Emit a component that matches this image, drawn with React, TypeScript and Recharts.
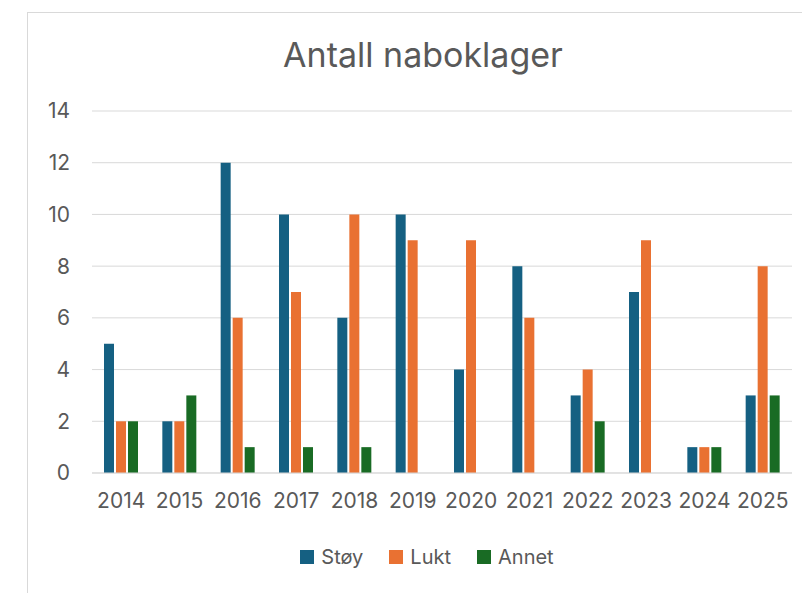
import { BarChart, Bar, XAxis, YAxis, CartesianGrid } from "recharts";

const years = ["2014", "2015", "2016", "2017", "2018", "2019", "2020", "2021", "2022", "2023", "2024", "2025"];
const stoy = [5, 2, 12, 10, 6, 10, 4, 8, 3, 7, 1, 3];
const lukt = [2, 2, 6, 7, 10, 9, 9, 6, 4, 9, 1, 8];
const annet = [2, 3, 1, 1, 1, 0, 0, 0, 2, 0, 1, 3];
const yTicks = [0, 2, 4, 6, 8, 10, 12, 14];
const seriesNames = ["Støy", "Lukt", "Annet"];
const seriesColors = ["#156082", "#E97132", "#196B24"];

const data = years.map((year, i) => ({
    year,
    Støy: stoy[i],
    Lukt: lukt[i],
    Annet: annet[i],
}));

const font = "Inter, 'Open Sans', sans-serif";
const grey = "#595959";

export default function App() {
    return (
        <div style={{ position: "absolute", left: 0, top: 0, width: 802, height: 593, background: "#fff", fontFamily: font }}>
            <div
                style={{
                    position: "absolute",
                    left: 27,
                    top: 12,
                    width: 800,
                    height: 600,
                    border: "1px solid #d9d9d9",
                }}
            />
            <div
                style={{
                    position: "absolute",
                    left: 0,
                    width: 846,
                    top: 34,
                    textAlign: "center",
                    fontSize: 34,
                    color: grey,
                }}
            >
                Antall naboklager
            </div>
            <div style={{ position: "absolute", left: 0, top: 0 }}>
                <BarChart
                    width={802}
                    height={593}
                    data={data}
                    margin={{ top: 111, right: 10, bottom: 90, left: 52 }}
                    barSize={10}
                    barGap={2}
                >
                    <CartesianGrid vertical={false} stroke="#d9d9d9" />
                    <XAxis
                        dataKey="year"
                        height={30}
                        axisLine={{ stroke: "#d9d9d9" }}
                        tickLine={false}
                        tickSize={0}
                        tickMargin={20}
                        tick={{ fill: grey, fontSize: 21, fontFamily: font }}
                        interval={0}
                    />
                    <YAxis
                        width={40}
                        domain={[0, 14]}
                        ticks={yTicks}
                        axisLine={false}
                        tickLine={false}
                        tickSize={0}
                        tickMargin={22}
                        tick={{ fill: grey, fontSize: 21, fontFamily: font }}
                    />
                    <Bar dataKey="Støy" fill={seriesColors[0]} isAnimationActive={false} />
                    <Bar dataKey="Lukt" fill={seriesColors[1]} isAnimationActive={false} />
                    <Bar dataKey="Annet" fill={seriesColors[2]} isAnimationActive={false} />
                </BarChart>
            </div>
            {/* legend, series order */}
            <div
                style={{
                    position: "absolute",
                    left: 0,
                    width: 854,
                    top: 545,
                    display: "flex",
                    justifyContent: "center",
                    gap: 26,
                    fontSize: 20,
                    color: grey,
                }}
            >
                {seriesNames.map((name, i) => (
                    <div key={name} style={{ display: "flex", alignItems: "center" }}>
                        <span style={{ display: "inline-block", width: 14, height: 14, background: seriesColors[i], marginRight: 7 }} />
                        <span>{name}</span>
                    </div>
                ))}
            </div>
        </div>
    );
}
